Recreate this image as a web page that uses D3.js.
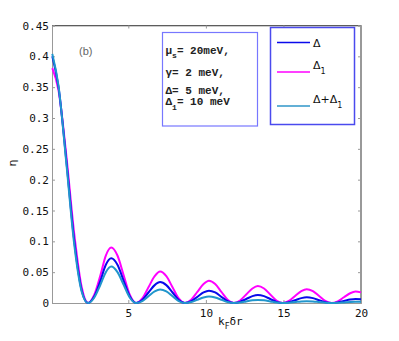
<!DOCTYPE html>
<html>
<head>
<meta charset="utf-8">
<script src="https://cdn.jsdelivr.net/npm/d3@7"></script>
<style>
  body { margin: 0; background: #fff; }
  svg { display: block; }
  .tick text { font-family: "DejaVu Sans Mono", monospace; font-size: 11px; fill: #111; }
</style>
</head>
<body>
<div id="chart"></div>
<script>
// sample positions (k_F dr) and the three curves
const xs = [0.1, 0.5, 1.0, 1.5, 2.0, 2.4,
  2.8, 3.2, 3.55, 3.9, 4.3, 4.7, 5.1, 5.5,
  5.9, 6.3, 6.7, 7.05, 7.45, 7.85, 8.25, 8.65,
  9.05, 9.45, 9.85, 10.2, 10.6, 11.0, 11.4, 11.8,
  12.2, 12.6, 13.0, 13.35, 13.75, 14.15, 14.55, 14.95,
  15.35, 15.75, 16.15, 16.5, 16.9, 17.3, 17.7, 18.1,
  18.5, 18.9, 19.3, 19.65, 20.0];

const delta = [0.400, 0.350, 0.232, 0.104, 0.020, 0,
  0.0106, 0.036, 0.062, 0.0725, 0.062, 0.036, 0.0106, 0,
  0.005, 0.017, 0.029, 0.034, 0.029, 0.017, 0.005, 0,
  0.0029, 0.010, 0.0171, 0.020, 0.0171, 0.010, 0.0029, 0,
  0.0019, 0.0065, 0.0111, 0.013, 0.0111, 0.0065, 0.0019, 0,
  0.0013, 0.0046, 0.0079, 0.0092, 0.0079, 0.0046, 0.0013, 0,
  0.001, 0.0033, 0.0056, 0.0065, 0.0061];

const delta1 = [0.381, 0.345, 0.240, 0.115, 0.025, 0,
  0.013, 0.045, 0.077, 0.090, 0.077, 0.045, 0.013, 0,
  0.0074, 0.0255, 0.0435, 0.051, 0.0435, 0.0255, 0.0074, 0,
  0.0053, 0.018, 0.0307, 0.036, 0.0307, 0.018, 0.0053, 0,
  0.004, 0.0138, 0.0235, 0.0275, 0.0235, 0.0138, 0.004, 0,
  0.0033, 0.0113, 0.0192, 0.0225, 0.0192, 0.0113, 0.0033, 0,
  0.0027, 0.0093, 0.0158, 0.0185, 0.0172];

const deltaSum = [0.404, 0.352, 0.228, 0.098, 0.018, 0,
  0.0086, 0.0295, 0.050, 0.059, 0.050, 0.0295, 0.0086, 0,
  0.0032, 0.011, 0.0188, 0.022, 0.0188, 0.011, 0.0032, 0,
  0.0015, 0.0053, 0.009, 0.0105, 0.009, 0.0053, 0.0015, 0,
  0.0007, 0.0025, 0.0043, 0.005, 0.0043, 0.0025, 0.0007, 0,
  0.0004, 0.0015, 0.0026, 0.003, 0.0026, 0.0015, 0.0004, 0,
  0.0003, 0.001, 0.0017, 0.002, 0.0019];

const xTicks = [5, 10, 15, 20];
const yTicks = [0, 0.05, 0.1, 0.15, 0.2, 0.25, 0.3, 0.35, 0.4, 0.45];
const yTickLabels = ['0', '0.05', '0.1', '0.15', '0.2', '0.25', '0.3', '0.35', '0.4', '0.45'];

const series = [
  { name: 'Delta1', values: delta1, color: '#ff00ff' },
  { name: 'Delta', values: delta, color: '#0a0aeb' },
  { name: 'DeltaSum', values: deltaSum, color: '#2196cc' }
];

var width = 399,
    height = 341;

var x = d3.scaleLinear().domain([0.08, 20]).range([52, 361]);
var y = d3.scaleLinear().domain([0, 0.45]).range([303, 25.5]);

var svg = d3.select('#chart').append('svg')
    .attr('width', width)
    .attr('height', height);

// frame lines (top/right darker, like the original)
svg.append('line').attr('x1', 52).attr('x2', 361).attr('y1', 25.5).attr('y2', 25.5)
    .attr('stroke', '#222').attr('stroke-width', 1);
svg.append('line').attr('x1', 361).attr('x2', 361).attr('y1', 25.5).attr('y2', 303)
    .attr('stroke', '#333').attr('stroke-width', 1);

var yAxis = svg.append('g')
    .attr('transform', 'translate(52,0)')
    .call(d3.axisLeft(y).tickValues(yTicks).tickSize(-3).tickPadding(3)
        .tickFormat((d, i) => yTickLabels[i]));

var xAxis = svg.append('g')
    .attr('transform', 'translate(0,303)')
    .call(d3.axisBottom(x).tickValues(xTicks).tickSize(-3).tickPadding(6));

svg.append('g')
    .attr('transform', 'translate(361,0)')
    .call(d3.axisRight(y).tickValues(yTicks).tickSize(-3).tickFormat(''));
svg.append('g')
    .attr('transform', 'translate(0,25.5)')
    .call(d3.axisTop(x).tickValues(xTicks).tickSize(-3).tickFormat(''));

svg.selectAll('.domain').attr('stroke', '#999');
svg.selectAll('.tick line').attr('stroke', '#999');

var line = d3.line()
    .x((d, i) => x(xs[i]))
    .y(d => y(d))
    .curve(d3.curveMonotoneX);

svg.append('g').selectAll('path')
    .data(series)
    .join('path')
    .attr('d', d => line(d.values))
    .attr('fill', 'none')
    .attr('stroke', d => d.color)
    .attr('stroke-width', 2);

// axis titles
var xl = svg.append('text')
    .attr('x', 218).attr('y', 325)
    .attr('font-family', 'DejaVu Sans Mono, monospace')
    .attr('font-size', 11).attr('fill', '#111');
xl.append('tspan').text('k');
xl.append('tspan').attr('dy', 4).attr('font-size', 8).text('F');
xl.append('tspan').attr('dy', -4).text('δr');

svg.append('text')
    .attr('transform', 'translate(16,163) rotate(-90)')
    .attr('text-anchor', 'middle')
    .attr('font-family', 'DejaVu Sans, sans-serif')
    .attr('font-size', 11).attr('fill', '#111')
    .text('η');

svg.append('text')
    .attr('x', 79).attr('y', 55)
    .attr('font-family', 'Liberation Sans, Arial, sans-serif')
    .attr('font-size', 11).attr('fill', '#666')
    .text('(b)');

// parameter box
svg.append('rect')
    .attr('x', 162.5).attr('y', 32.5).attr('width', 95).attr('height', 93.5)
    .attr('fill', '#fff').attr('stroke', '#7777ff').attr('stroke-width', 1.2);

var paramFont = 'Liberation Mono, Courier New, monospace';
function paramLine(yPos, parts) {
  var t = svg.append('text')
      .attr('x', 165.5).attr('y', yPos)
      .attr('font-family', paramFont).attr('font-size', 11)
      .attr('font-weight', 'bold').attr('fill', '#222');
  parts.forEach(p => {
    t.append('tspan').attr('dy', p[1] || 0).attr('font-size', p[2] || 11).text(p[0]);
  });
}
paramLine(54, [['μ'], ['s', 4, 8], ['= 20meV,', -4]]);
paramLine(76, [['γ= 2 meV,']]);
paramLine(94, [['Δ= 5 meV,']]);
paramLine(105, [['Δ'], ['1', 5, 8], ['= 10 meV', -5]]);

// legend
svg.append('rect')
    .attr('x', 270.5).attr('y', 27.5).attr('width', 84).attr('height', 97)
    .attr('fill', '#fff').attr('stroke', '#4a4aee').attr('stroke-width', 1.5);

const legendItems = [
  { color: '#0a0aeb', y: 42.5, label: [['Δ']] },
  { color: '#ff00ff', y: 72, label: [['Δ'], ['1', 5, 8]] },
  { color: '#2f96c8', y: 106, label: [['Δ+Δ'], ['1', 5, 8]] }
];

legendItems.forEach(item => {
  svg.append('line')
      .attr('x1', 277).attr('x2', 310)
      .attr('y1', item.y).attr('y2', item.y)
      .attr('stroke', item.color).attr('stroke-width', 1.5);
  var t = svg.append('text')
      .attr('x', 313).attr('y', item.y + (item.label.length > 1 ? -3 : 4))
      .attr('font-family', 'DejaVu Sans, sans-serif')
      .attr('font-size', 11).attr('fill', '#111');
  item.label.forEach(p => {
    t.append('tspan').attr('dy', p[1] || 0).attr('font-size', p[2] || 11).text(p[0]);
  });
});
</script>
</body>
</html>
